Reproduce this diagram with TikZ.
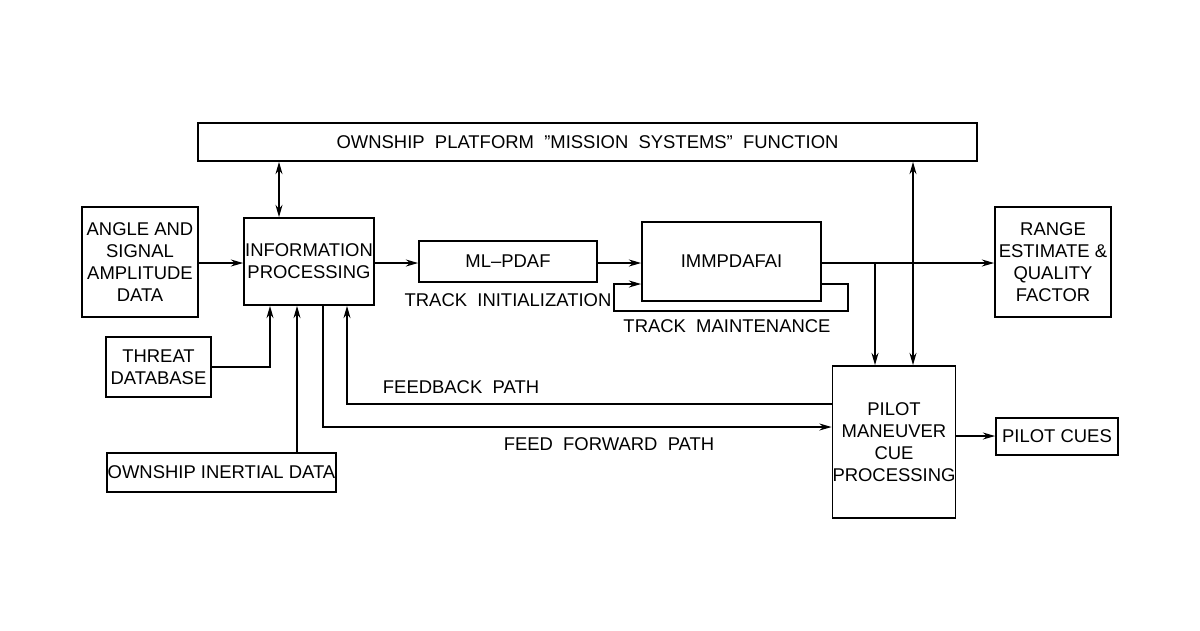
\documentclass[tikz,border=0pt]{standalone}
\usepackage{fontspec}
\setmainfont{Liberation Sans}
\usetikzlibrary{arrows.meta}
\begin{document}
\begin{tikzpicture}[x=0.02cm,y=-0.02cm,
  box/.style={draw,line width=1pt,inner sep=0pt},
  lbl/.style={font=\fontsize{10.5}{12.5}\selectfont,align=center},
  con/.style={line width=0.8pt,-{Stealth[length=7pt,width=4pt]}},
  bi/.style={line width=0.8pt,{Stealth[length=7pt,width=4pt]}-{Stealth[length=7pt,width=4pt]}},
  ln/.style={line width=0.8pt}]
\useasboundingbox (0,0) rectangle (1200,630);
\node[box,minimum width=779*0.02cm,minimum height=38*0.02cm] (ms) at (587.5,142) {};
\node[lbl] at (ms) {OWNSHIP\ \ PLATFORM\ \ "MISSION\ \ SYSTEMS"\ \ FUNCTION};
\node[box,minimum width=116*0.02cm,minimum height=110*0.02cm,lbl] (ang) at (140,262) {ANGLE AND\\SIGNAL\\AMPLITUDE\\DATA};
\node[box,minimum width=130*0.02cm,minimum height=87*0.02cm,lbl] (ip) at (309,261.5) {INFORMATION\\PROCESSING};
\node[box,minimum width=178*0.02cm,minimum height=41*0.02cm,lbl] (ml) at (508,261.5) {ML--PDAF};
\node[box,minimum width=179*0.02cm,minimum height=79*0.02cm,lbl] (imm) at (731.5,261.5) {IMMPDAFAI};
\node[box,minimum width=116*0.02cm,minimum height=110*0.02cm,lbl] (rng) at (1053,262) {RANGE\\ESTIMATE \&\\QUALITY\\FACTOR};
\node[box,minimum width=105*0.02cm,minimum height=60*0.02cm,lbl] (thr) at (158.5,367) {THREAT\\DATABASE};
\node[box,minimum width=229*0.02cm,minimum height=39*0.02cm,lbl] (oid) at (221.5,472.5) {OWNSHIP INERTIAL DATA};
\node[box,minimum width=112*0.02cm,minimum height=152*0.02cm,lbl] (pm) at (894,442) {PILOT\\MANEUVER\\CUE\\PROCESSING};
\node[box,minimum width=122*0.02cm,minimum height=37*0.02cm,lbl] (pc) at (1057,436.5) {PILOT CUES};
\node[lbl] (ti) at (508,300) {TRACK\ \ INITIALIZATION};
\node[lbl] (tm) at (727,326) {TRACK\ \ MAINTENANCE};
\node[lbl] (fb) at (461,387) {FEEDBACK\ \ PATH};
\node[lbl] (ff) at (609,444) {FEED\ \ FORWARD\ \ PATH};
% connectors
\draw[bi] (ms.south -| 279,0) -- (ip.north -| 279,0);
\draw[bi] (ms.south -| 913,0) -- (pm.north -| 913,0);
\draw[con] (ang.east |- 0,263) -- (ip.west |- 0,263);
\draw[con] (ip.east |- 0,263) -- (ml.west |- 0,263);
\draw[con] (ml.east |- 0,263) -- (imm.west |- 0,263);
\draw[con] (imm.east |- 0,263) -- (rng.west |- 0,263);
\coordinate (br) at (875,263);
\draw[con] (br) -- (pm.north -| br);
\draw[con] (imm.east |- 0,284) -- (848,284) -- (848,311) -- (614,311) -- (614,284) -- (imm.west |- 0,284);
\draw[con] (thr.east |- 0,367) -- (270,367) -- (ip.south -| 270,0);
\draw[con] (oid.north -| 297,0) -- (ip.south -| 297,0);
\draw[con] (pm.west |- 0,404) -- (347,404) -- (ip.south -| 347,0);
\draw[con] (ip.south -| 323,0) -- (323,427) -- (pm.west |- 0,427);
\draw[con] (pm.east |- 0,436) -- (pc.west |- 0,436);
\end{tikzpicture}
\end{document}
